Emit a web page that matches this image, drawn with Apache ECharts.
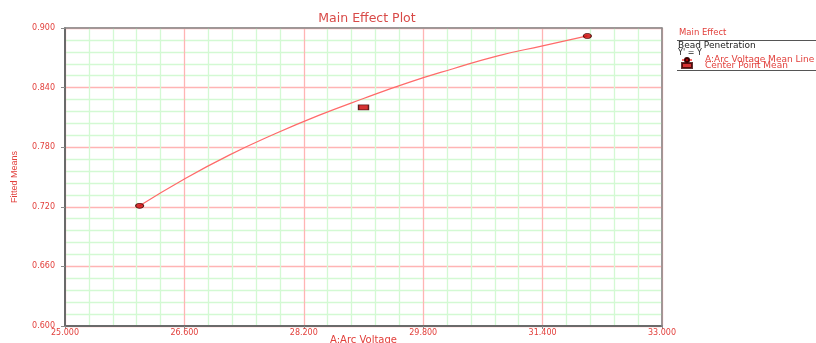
<!DOCTYPE html>
<html>
<head>
<meta charset="utf-8">
<script src="https://cdn.jsdelivr.net/npm/echarts@6/dist/echarts.min.js"></script>
<style>
  html, body { margin: 0; padding: 0; background: #fff; }
  #chart { width: 816px; height: 343px; }
</style>
</head>
<body>
<div id="chart"></div>
<script>
// Main effect of arc voltage on bead penetration
const voltage = [26.0, 26.6, 27.2, 27.8, 28.4, 29.0, 29.6, 30.2, 30.8, 31.4, 32.0];
const fittedMeans = [0.721, 0.748, 0.772, 0.793, 0.812, 0.829, 0.845, 0.859, 0.872, 0.882, 0.892];
const endPointX = [26.0, 32.0];
const endPointY = [0.721, 0.892];
const centerX = [29.0];
const centerY = [0.820];

const red = '#e2403c';
const labelFont = 'DejaVu Sans';

const chart = echarts.init(document.getElementById('chart'));

const lineData = voltage.map((v, i) => [v, fittedMeans[i]]);
const endData = endPointX.map((v, i) => [v, endPointY[i]]);
const centerData = centerX.map((v, i) => [v, centerY[i]]);

// plain frame axes for the top and right edges of the plot
const frameAxis = (extra) => Object.assign({
  type: 'value',
  z: 5,
  axisLine: { show: true, onZero: false, lineStyle: { color: '#8a8a8a', width: 1.5 } },
  axisTick: { show: false },
  axisLabel: { show: false },
  splitLine: { show: false },
  minorSplitLine: { show: false }
}, extra);

chart.setOption({
  animation: false,
  backgroundColor: '#fff',
  title: {
    text: 'Main Effect Plot',
    left: 362,
    textAlign: 'center',
    top: 7,
    textStyle: { color: '#d84a48', fontSize: 12.5, fontWeight: 'normal', fontFamily: labelFont }
  },
  grid: {
    left: 65, right: 154, top: 28, bottom: 17,
    outerBoundsMode: 'none',
    containLabel: false,
    show: true, borderColor: '#8a8a8a', borderWidth: 1, backgroundColor: '#fff'
  },
  xAxis: [{
    type: 'value',
    min: 25, max: 33, interval: 1.6,
    name: 'A:Arc Voltage',
    nameLocation: 'middle',
    nameGap: 9,
    nameMoveOverlap: false,
    nameTextStyle: { color: red, fontSize: 10, fontFamily: labelFont, verticalAlign: 'top' },
    axisLine: { show: true, onZero: false, lineStyle: { color: '#6a6a6a', width: 2 } },
    axisTick: { show: true, length: 3, lineStyle: { color: '#8a8a8a' } },
    axisLabel: {
      color: red, fontSize: 8, fontFamily: labelFont, margin: 3,
      showMinLabel: true, showMaxLabel: true,
      formatter: v => v.toFixed(3)
    },
    splitLine: { show: true, lineStyle: { color: '#ffb4b4', width: 1.3 } },
    minorTick: { show: false, splitNumber: 5 },
    minorSplitLine: { show: true, lineStyle: { color: '#d3f9d3', width: 1.3 } }
  }, frameAxis({ position: 'top', min: 25, max: 33 })],
  yAxis: [{
    type: 'value',
    min: 0.6, max: 0.9, interval: 0.06,
    name: 'Fitted Means',
    nameLocation: 'middle',
    nameGap: 46,
    nameTextStyle: { color: red, fontSize: 9, fontFamily: 'Liberation Sans Narrow, Liberation Sans' },
    axisLine: { show: true, onZero: false, lineStyle: { color: '#6a6a6a', width: 2 } },
    axisTick: { show: true, length: 4, lineStyle: { color: '#8a8a8a' } },
    axisLabel: {
      color: red, fontSize: 8, fontFamily: labelFont, margin: 10,
      formatter: v => v.toFixed(3)
    },
    splitLine: { show: true, lineStyle: { color: '#ffb4b4', width: 1.3 } },
    minorTick: { show: false, splitNumber: 5 },
    minorSplitLine: { show: true, lineStyle: { color: '#d3f9d3', width: 1.3 } }
  }, frameAxis({ position: 'right', min: 0.6, max: 0.9 })],
  legend: {
    orient: 'vertical',
    left: 681,
    top: 55.5,
    itemGap: -3.5,
    itemWidth: 10,
    itemHeight: 5,
    padding: 0,
    textStyle: { color: red, fontSize: 9, lineHeight: 6, fontFamily: labelFont, padding: [0, 0, 0, 8] },
    data: [
      { name: 'A:Arc Voltage Mean Line' },
      { name: 'Center Point Mean', icon: 'rect' }
    ]
  },
  graphic: [
    { type: 'text', left: 679, top: 28, style: { text: 'Main Effect', fill: red, font: '8.5px DejaVu Sans' } },
    { type: 'line', shape: { x1: 677, y1: 40.5, x2: 816, y2: 40.5 }, style: { stroke: '#555', lineWidth: 1 } },
    { type: 'text', left: 678, top: 41, style: { text: 'Bead Penetration', fill: '#222', font: '9px DejaVu Sans' } },
    { type: 'text', left: 678, top: 48.5, style: { text: "Y' = Y", fill: '#222', font: '8px DejaVu Sans' } },
    { type: 'line', shape: { x1: 677, y1: 70.5, x2: 816, y2: 70.5 }, style: { stroke: '#555', lineWidth: 1 } }
  ],
  series: [
    {
      name: 'A:Arc Voltage Mean Line',
      type: 'line',
      smooth: true,
      showSymbol: false,
      data: lineData,
      lineStyle: { color: '#ff6a6a', width: 1.2 },
      itemStyle: { color: '#cc0000', borderColor: '#3a0000', borderWidth: 1 },
      symbol: 'circle',
      symbolSize: [8, 5],
      z: 3
    },
    {
      name: 'A:Arc Voltage Mean Line',
      type: 'scatter',
      data: endData,
      symbol: 'circle',
      symbolSize: [8, 5],
      itemStyle: { color: '#cc0000', borderColor: '#3a0000', borderWidth: 1 },
      z: 4
    },
    {
      name: 'Center Point Mean',
      type: 'scatter',
      data: centerData,
      symbol: 'rect',
      symbolSize: [10, 5],
      itemStyle: { color: '#cc0000', borderColor: '#3a0000', borderWidth: 1 },
      z: 4
    }
  ]
});
</script>
</body>
</html>
